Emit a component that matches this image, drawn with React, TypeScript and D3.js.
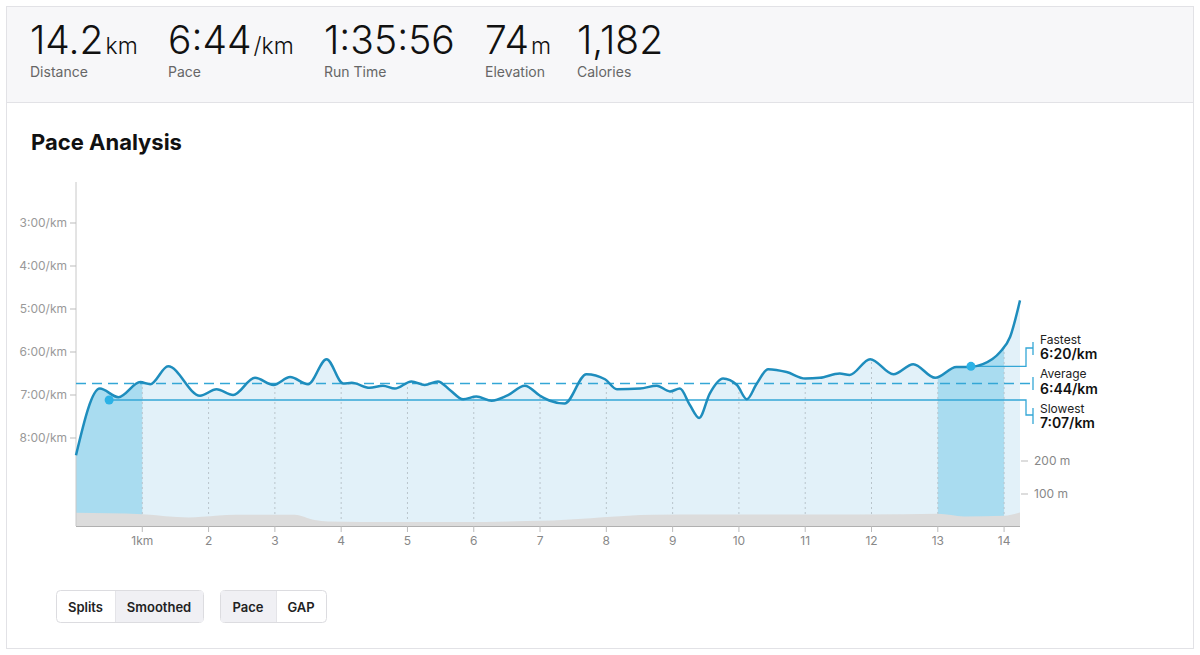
import * as d3 from 'd3';
import React from 'react';

// header stats
const statValues = ['14.2', '6:44', '1:35:56', '74', '1,182'];
const statUnits = ['km', '/km', '', 'm', ''];
const statLabels = ['Distance', 'Pace', 'Run Time', 'Elevation', 'Calories'];
const statX = [30, 168, 324, 485, 577];

// smoothed pace along the run (km, seconds per km)
const paceKm = [
  0, 0.36, 0.64, 0.97, 1.12, 1.39, 1.87, 2.12, 2.37, 2.7, 2.98, 3.23, 3.5, 3.78, 4.03, 4.16,
  4.43, 4.63, 4.81, 5.06, 5.26, 5.46, 5.64, 5.84, 6.04, 6.27, 6.5, 6.77, 7.0, 7.15, 7.37, 7.7,
  7.98, 8.16, 8.51, 8.76, 8.96, 9.11, 9.26, 9.4, 9.56, 9.76, 9.97, 10.12, 10.27, 10.44, 10.72,
  11.0, 11.22, 11.52, 11.67, 11.98, 12.33, 12.63, 12.96, 13.28, 13.48, 13.68, 13.94, 14.09, 14.24,
];
const paceSec = [
  504, 411, 423, 402, 405, 380, 421, 412, 420, 396, 406, 395, 405, 370, 404, 403,
  410, 407, 411, 401, 406, 401, 413, 426, 422, 428, 421, 407, 421, 428, 432, 391,
  398, 412, 411, 407, 415, 411, 434, 452, 418, 397, 406, 426, 404, 384, 388,
  397, 396, 390, 392, 370, 391, 377, 396, 381, 381, 377, 360, 339, 288,
];

// elevation profile (km, metres)
const elevKm = [0, 1.0, 1.7, 1.9, 2.4, 3.3, 3.6, 3.8, 4.8, 5.8, 6.8, 7.2, 8.7, 9.5, 11, 12.5, 13.0, 13.4, 14.0, 14.24];
const elevM = [43, 39, 29, 31, 37, 37, 21, 17, 15, 15, 18, 20, 37, 38, 38, 39, 40, 32, 34, 44];

const kmTicks = [1, 2, 3, 4, 5, 6, 7, 8, 9, 10, 11, 12, 13, 14];
const paceTicks = [180, 240, 300, 360, 420, 480];
const elevTicks = [100, 200];

// split markers
const highlightSplits = [0, 13];
const fastest = { km: 13.5, pace: 380 };
const slowest = { km: 0.5, pace: 427 };
const averagePace = 404;

const font = 'Inter, "Noto Sans", sans-serif';

const fmtPace = (s: number) => `${Math.floor(s / 60)}:${String(Math.round(s % 60)).padStart(2, '0')}/km`;

const App: React.FC = () => {
  const top = 182;
  const bottom = 526;
  const left = 76;
  const right = 1020;

  const x = d3.scaleLinear().domain([0, 14.24]).range([left, right]);
  const y = d3.scaleLinear().domain([180, 480]).range([223, 438]);
  const yE = d3.scaleLinear().domain([0, 200]).range([527, 461]);

  const pts = paceKm.map((k, i) => [k, paceSec[i]] as [number, number]);
  const elev = elevKm.map((k, i) => [k, elevM[i]] as [number, number]);

  const line = d3.line<[number, number]>()
    .x(d => x(d[0]))
    .y(d => y(d[1]))
    .curve(d3.curveMonotoneX);
  const area = d3.area<[number, number]>()
    .x(d => x(d[0]))
    .y0(bottom)
    .y1(d => y(d[1]))
    .curve(d3.curveMonotoneX);
  const elevArea = d3.area<[number, number]>()
    .x(d => x(d[0]))
    .y0(bottom)
    .y1(d => yE(d[1]))
    .curve(d3.curveMonotoneX);

  const accent = '#34a7d6';
  const bx = 1033;

  const buttons = [
    { x: 56, w: 59, label: 'Splits', on: false },
    { x: 115, w: 88, label: 'Smoothed', on: true },
    { x: 220, w: 56, label: 'Pace', on: true },
    { x: 276, w: 50, label: 'GAP', on: false },
  ];

  return (
    <div style={{ position: 'absolute', left: 0, top: 0 }}>
      <svg width={1200} height={655} style={{ display: 'block', fontFamily: font }}>
        <rect x={0} y={0} width={1200} height={655} fill="#fff" />
        {/* card frame + header band */}
        <rect x={6.5} y={6.5} width={1187} height={642} fill="#fff" stroke="#e2e2e6" />
        <rect x={7} y={7} width={1186} height={95} fill="#f7f7f9" />
        <line x1={7} x2={1193} y1={102.5} y2={102.5} stroke="#e2e2e6" />

        {statValues.map((v, i) => (
          <g key={v}>
            <text x={statX[i]} y={54} fontSize={39} fontWeight={300} fill="#111">
              {v}
              {statUnits[i] && <tspan fontSize={23} dx={2}>{statUnits[i]}</tspan>}
            </text>
            <text x={statX[i]} y={77} fontSize={14} fill="#666">{statLabels[i]}</text>
          </g>
        ))}

        <text x={31} y={150} fontSize={22} fontWeight={700} fill="#111">Pace Analysis</text>

        <defs>
          <clipPath id="paceClip">
            <path d={area(pts) ?? ''} />
          </clipPath>
        </defs>

        {/* pace fill */}
        <path d={area(pts) ?? ''} fill="#e2f1f9" />
        <g clipPath="url(#paceClip)">
          {highlightSplits.map(s => (
            <rect key={s} x={x(s)} y={top} width={x(s + 1) - x(s)} height={bottom - top} fill="#a9dcf0" />
          ))}
          {kmTicks.map(k => (
            <line key={k} x1={x(k)} x2={x(k)} y1={top} y2={bottom} stroke="#b9c4cb" strokeDasharray="2,3" />
          ))}
        </g>

        {/* elevation */}
        <path d={elevArea(elev) ?? ''} fill="#dcdcdc" />

        {/* axes */}
        <line x1={left} x2={left} y1={top} y2={bottom} stroke="#c8c8c8" />
        <line x1={left} x2={right} y1={bottom + 0.5} y2={bottom + 0.5} stroke="#b0b0b0" />
        {paceTicks.map(p => (
          <g key={p}>
            <line x1={70} x2={left} y1={y(p)} y2={y(p)} stroke="#bbb" />
            <text x={67} y={y(p)} dy="0.35em" textAnchor="end" fontSize={12} fill="#999">{fmtPace(p)}</text>
          </g>
        ))}
        {kmTicks.map(k => (
          <g key={k}>
            <line x1={x(k)} x2={x(k)} y1={bottom} y2={bottom + 6} stroke="#bbb" />
            <text x={x(k)} y={541} dy="0.35em" textAnchor="middle" fontSize={12} fill="#888">
              {k === 1 ? '1km' : k}
            </text>
          </g>
        ))}
        {elevTicks.map(m => (
          <g key={m}>
            <line x1={1021} x2={1028} y1={yE(m)} y2={yE(m)} stroke="#bbb" />
            <text x={1034} y={yE(m)} dy="0.35em" fontSize={12} fill="#888">{m} m</text>
          </g>
        ))}

        {/* average / slowest / fastest guides */}
        <line x1={left} x2={bx} y1={y(averagePace)} y2={y(averagePace)} stroke={accent} strokeWidth={1.5} strokeDasharray="10,6" />
        <path d={`M${x(slowest.km)},${y(slowest.pace)}H1026V415H${bx}`} fill="none" stroke={accent} strokeWidth={1.3} />
        <path d={`M${x(fastest.km)},${y(fastest.pace)}H1026V348H${bx}`} fill="none" stroke={accent} strokeWidth={1.3} />
        <line x1={bx} x2={bx} y1={342} y2={355} stroke={accent} strokeWidth={1.3} />
        <line x1={bx} x2={bx} y1={377} y2={390} stroke={accent} strokeWidth={1.3} />
        <line x1={bx} x2={bx} y1={408} y2={424} stroke={accent} strokeWidth={1.3} />

        {/* pace line */}
        <path d={line(pts) ?? ''} fill="none" stroke="#1e8dbd" strokeWidth={2.5} strokeLinejoin="round" />
        <circle cx={x(slowest.km)} cy={y(slowest.pace)} r={4.5} fill="#2cb2e6" />
        <circle cx={x(fastest.km)} cy={y(fastest.pace)} r={4.5} fill="#2cb2e6" />

        <text x={1040} y={344} fontSize={12} fill="#222">Fastest</text>
        <text x={1040} y={359} fontSize={14} fontWeight={600} fill="#111">{fmtPace(fastest.pace)}</text>
        <text x={1040} y={378} fontSize={12} fill="#222">Average</text>
        <text x={1040} y={394} fontSize={14} fontWeight={600} fill="#111">{fmtPace(averagePace)}</text>
        <text x={1040} y={413} fontSize={12} fill="#222">Slowest</text>
        <text x={1040} y={428} fontSize={14} fontWeight={600} fill="#111">{fmtPace(slowest.pace)}</text>

        {/* toggle buttons */}
        {[[56, 147], [220, 106]].map(([bx0, bw]) => (
          <rect key={bx0} x={bx0 + 0.5} y={590.5} width={bw} height={32} rx={4} fill="#fff" stroke="#dcdce0" />
        ))}
        {buttons.map(b => (
          <g key={b.label}>
            {b.on && (
              <rect x={b.x + 1} y={591} width={b.w - 1} height={31} fill="#f0f0f4" />
            )}
            <text x={b.x + b.w / 2} y={607} dy="0.35em" textAnchor="middle" fontSize={13} fontWeight={600} fill="#222">
              {b.label}
            </text>
          </g>
        ))}
        <line x1={115.5} x2={115.5} y1={591} y2={622} stroke="#e4e4e8" />
        <line x1={276.5} x2={276.5} y1={591} y2={622} stroke="#e4e4e8" />
      </svg>
    </div>
  );
};

export default App;
